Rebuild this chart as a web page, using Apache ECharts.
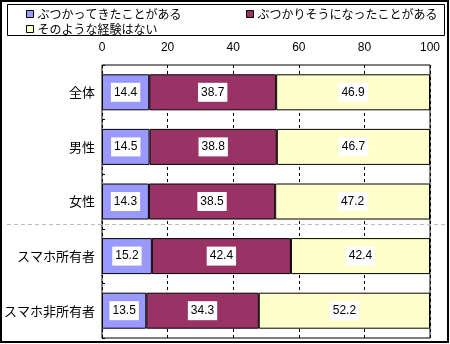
<!DOCTYPE html>
<html><head><meta charset="utf-8">
<script src="https://cdn.jsdelivr.net/npm/echarts@6/dist/echarts.min.js"></script>
<style>html,body{margin:0;padding:0;background:#fff}#c{width:450px;height:344px}</style>
</head><body><div id="c"></div>
<script>
const categories = ['全体', '男性', '女性', 'スマホ所有者', 'スマホ非所有者'];
const seriesNames = ['ぶつかってきたことがある', 'ぶつかりそうになったことがある', 'そのような経験はない'];
const hitValues = [14.4, 14.5, 14.3, 15.2, 13.5];
const nearValues = [38.7, 38.8, 38.5, 42.4, 34.3];
const noneValues = [46.9, 46.7, 47.2, 42.4, 52.2];
const xTicks = [0, 20, 40, 60, 80, 100];
const colors = ['#9999FF', '#993366', '#FFFFCC'];

const chart = echarts.init(document.getElementById('c'), null, {renderer: 'canvas'});
const jp = '"Noto Sans CJK JP", sans-serif';
const lat = '"Liberation Sans", Arial, sans-serif';
function mkSeries(name, data, color) {
  return {
    name: name, type: 'bar', stack: 'total', data: data, barWidth: 36,
    itemStyle: {color: color, borderColor: '#000', borderWidth: 1},
    label: {show: true, position: 'inside', color: '#000', fontFamily: lat, fontSize: 12,
      backgroundColor: '#fff', padding: [4, 3, 3, 3],
      formatter: p => p.value.toFixed(1)},
    emphasis: {disabled: true}, animation: false
  };
}
function mkLegend(name, left, top) {
  return {data: [{name: name, icon: 'rect', itemStyle: {borderColor: '#000', borderWidth: 1}}],
    left: left, top: top, itemWidth: 7, itemHeight: 7, itemGap: 0, padding: 0,
    textStyle: {fontFamily: jp, fontSize: 12, color: '#000', padding: [0, 0, 0, -1]}, selectedMode: false};
}
chart.setOption({
  animation: false,
  legend: [mkLegend(seriesNames[0], 26, 8), mkLegend(seriesNames[1], 246, 8), mkLegend(seriesNames[2], 26, 23)],
  grid: {left: 102, right: 20, top: 65, bottom: 6, show: true, borderColor: '#000', borderWidth: 1, backgroundColor: 'transparent'},
  xAxis: {type: 'value', position: 'top', min: xTicks[0], max: xTicks[xTicks.length - 1], interval: 20,
    axisLine: {show: false}, axisTick: {show: false},
    axisLabel: {fontFamily: lat, fontSize: 12, color: '#000', margin: 11},
    splitLine: {show: true, lineStyle: {color: '#000', type: [3, 3], width: 1}}},
  yAxis: {type: 'category', inverse: true, data: categories,
    axisLine: {show: false}, axisTick: {show: true, inside: true, length: 3, lineStyle: {color: '#000'}},
    axisLabel: {fontFamily: jp, fontSize: 13, color: '#000', margin: 7}},
  series: [mkSeries(seriesNames[0], hitValues, colors[0]), mkSeries(seriesNames[1], nearValues, colors[1]), mkSeries(seriesNames[2], noneValues, colors[2])],
  graphic: [
    {type: 'rect', shape: {x: 1, y: 1, width: 447, height: 341}, style: {fill: null, stroke: '#000', lineWidth: 2}, silent: true},
    {type: 'rect', shape: {x: 7.5, y: 4.5, width: 437, height: 31}, style: {fill: null, stroke: '#000', lineWidth: 1}, silent: true},
    {type: 'line', shape: {x1: 7, y1: 224.5, x2: 445, y2: 224.5}, style: {stroke: '#bbb', lineWidth: 1, lineDash: [4, 3]}, silent: true}
  ]
});
</script></body></html>
